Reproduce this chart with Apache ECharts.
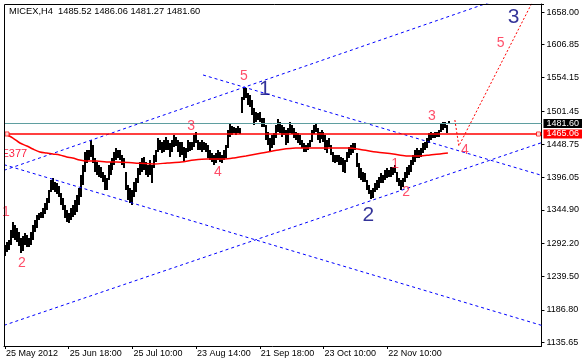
<!DOCTYPE html>
<html><head><meta charset="utf-8">
<script src="https://cdn.jsdelivr.net/npm/echarts@6/dist/echarts.min.js"></script>
<style>html,body{margin:0;padding:0;background:#fff}#c{width:582px;height:359px}</style>
</head><body><div id="c"></div>
<script>
// ---- data ----
const slotCount = 270;                       // bar slots across the plot
const xTickIndex = [0, 32, 64, 96, 128, 160, 192];
const xTickLabels = ['25 May 2012', '25 Jun 18:00', '25 Jul 10:00', '23 Aug 14:00', '21 Sep 18:00', '23 Oct 10:00', '22 Nov 10:00'];
const yTickValues = [1135.65, 1186.80, 1239.50, 1292.20, 1344.90, 1396.05, 1448.75, 1501.45, 1554.15, 1606.85, 1658.00];
const yMin = 1129.48, yMax = 1670.87;

const quoteName = 'MICEX,H4';
const quoteOHLC = [1485.52, 1486.06, 1481.27, 1481.60];
const bidPrice = 1481.60;
const levelPrice = 1465.06;

const barHigh = [
1289,1294,1297,1313,1326,1321,1316,1310,1300,1304,
1308,1305,1300,1310,1321,1329,1337,1340,1342,1348,
1356,1364,1376,1392,1395,1389,1387,1383,1372,1364,
1353,1345,1340,1348,1353,1361,1369,1380,1400,1416,
1437,1440,1440,1456,1448,1427,1421,1416,1413,1405,
1400,1395,1416,1421,1427,1437,1443,1440,1440,1432,
1427,1405,1384,1380,1376,1389,1395,1411,1421,1427,
1429,1421,1416,1424,1416,1432,1440,1459,1456,1452,
1456,1460,1456,1451,1456,1464,1460,1456,1452,1452,
1445,1443,1456,1452,1452,1464,1468,1456,1452,1456,
1452,1451,1448,1440,1435,1432,1435,1440,1437,1432,
1440,1448,1471,1482,1478,1476,1475,1478,1475,1524,
1538,1538,1530,1527,1519,1506,1500,1498,1500,1490,
1490,1479,1468,1459,1464,1467,1479,1489,1484,1479,
1476,1471,1475,1484,1479,1475,1468,1467,1464,1456,
1451,1448,1451,1456,1471,1479,1482,1475,1468,1471,
1468,1464,1456,1459,1448,1437,1432,1432,1432,1429,
1427,1424,1437,1445,1448,1451,1451,1435,1419,1411,
1405,1403,1392,1384,1376,1380,1387,1392,1397,1403,
1400,1408,1411,1408,1413,1413,1416,1405,1395,1392,
1395,1405,1413,1416,1424,1432,1440,1443,1440,1443,
1451,1452,1459,1467,1468,1467,1468,1468,1471,1482,
1484,1484,1479,1486];
const barLow = [
1272,1278,1281,1289,1300,1297,1294,1288,1277,1281,
1289,1286,1285,1289,1297,1310,1316,1329,1332,1332,
1338,1345,1356,1373,1376,1373,1369,1365,1353,1345,
1332,1326,1324,1329,1334,1338,1342,1353,1365,1384,
1405,1419,1424,1429,1419,1405,1400,1397,1395,1389,
1376,1376,1392,1400,1408,1416,1424,1427,1424,1416,
1411,1376,1361,1356,1353,1365,1373,1387,1400,1405,
1408,1400,1397,1400,1387,1411,1421,1437,1440,1435,
1437,1440,1440,1429,1437,1445,1445,1437,1429,1432,
1421,1427,1437,1437,1440,1445,1451,1440,1440,1437,
1440,1437,1427,1424,1421,1416,1419,1424,1421,1419,
1424,1427,1443,1460,1464,1467,1464,1467,1465,1498,
1519,1522,1511,1508,1495,1479,1484,1487,1484,1476,
1476,1456,1448,1437,1443,1448,1459,1468,1467,1460,
1464,1448,1452,1467,1464,1459,1456,1451,1448,1443,
1437,1437,1440,1445,1452,1464,1467,1456,1451,1456,
1452,1440,1435,1445,1432,1421,1419,1421,1416,1416,
1405,1403,1421,1427,1432,1435,1440,1413,1395,1392,
1389,1389,1376,1369,1361,1364,1372,1376,1380,1387,
1387,1392,1395,1397,1397,1400,1403,1389,1383,1376,
1380,1389,1395,1400,1405,1416,1421,1427,1427,1429,
1435,1440,1443,1451,1456,1459,1459,1460,1460,1467,
1471,1475,1467,1481];

// moving-average curve (slot position, price)
const maIdx = [0,4,7.5,11,14,17.5,21,24,27.5,31,34,37.5,41,46,51,56,65,75,81.5,88.5,95,101.5,110,115,121,129,137.5,146,154,162.5,172.5,180,186.5,195,201.5,208.5,213.5,218.5,222.5];
const maVal = [1465.1,1458.7,1450.8,1446.1,1441.3,1436.6,1435.0,1433.4,1431.8,1428.7,1427.1,1423.9,1422.3,1422.3,1420.8,1420.8,1419.2,1417.6,1419.2,1420.8,1423.9,1425.5,1425.5,1427.1,1430.3,1435.0,1439.8,1442.9,1442.9,1442.9,1442.9,1439.8,1436.6,1433.4,1430.3,1430.3,1431.8,1433.4,1435.0];

// blue dashed trend lines: [[slot, price], [slot, price]]
const blueLineA = [[-0.5, 1407.6], [269.5, 1701.9]];
const blueLineB = [[99.5, 1558.5], [269.5, 1399.7]];
const blueLineC = [[-0.5, 1416.5], [269.5, 1162.2]];
const blueLineD = [[-0.5, 1162.2], [269.5, 1451.3]];
// red dotted projection 3 -> 4 -> 5
const redProjection = [[226, 1487.2], [228, 1446.1], [266.5, 1683.5]];

// wave labels
const redWaveText = ['1', '2', '3', '4', '5', '1', '2', '3', '4', '5'];
const redWaveIdx  = [0.5, 8.5, 93.5, 107, 120, 196, 201.5, 214.5, 231, 249];
const redWaveVal  = [1341.6, 1260.9, 1477.7, 1404.9, 1556.9, 1417.6, 1373.3, 1493.6, 1439.8, 1609.1];
const navyWaveText = ['1', '2', '3'];
const navyWaveIdx  = [130.5, 182.5, 255.5];
const navyWaveVal  = [1536.3, 1336.9, 1650.3];
const levelMarkIdx = [1, 268];

// ---- chart ----
const FONT = '"Liberation Sans", Arial, sans-serif';
const RED_TXT = '#ff2244';
const chart = echarts.init(document.getElementById('c'));

function dashed(data) {
  return {
    type: 'line', data: data, symbol: 'none', silent: true, z: 3, clip: true,
    lineStyle: { color: '#0000ff', width: 1, type: [3, 3] }
  };
}

const option = {
  animation: false,
  backgroundColor: '#fff',
  textStyle: { fontFamily: FONT },
  grid: { left: 4, top: 4, width: 540, height: 342, show: false },
  xAxis: {
    type: 'value', min: -0.5, max: slotCount - 0.5,
    axisLine: { show: true, onZero: false, lineStyle: { color: '#000', width: 1 } },
    axisTick: { show: true, length: 3, customValues: xTickIndex, lineStyle: { color: '#000' } },
    axisLabel: {
      customValues: xTickIndex,
      formatter: (v) => { const k = xTickIndex.indexOf(Math.round(v)); return k >= 0 ? xTickLabels[k] : ''; },
      align: 'left', color: '#000', fontSize: 9, fontFamily: FONT, margin: 3, padding: [0, 0, 0, 1]
    },
    splitLine: { show: false }
  },
  yAxis: {
    type: 'value', position: 'right', min: yMin, max: yMax,
    axisLine: { show: true, onZero: false, lineStyle: { color: '#000', width: 1 } },
    axisTick: { show: true, length: 3, customValues: yTickValues, lineStyle: { color: '#000' } },
    axisLabel: { customValues: yTickValues, formatter: (v) => v.toFixed(2), color: '#000', fontSize: 9, fontFamily: FONT, margin: 5 },
    splitLine: { show: false }
  },
  graphic: [
    { type: 'text', left: 9, top: 7, z: 100, style: { text: quoteName + '  ' + quoteOHLC.map(v => v.toFixed(2)).join(' '), fill: '#000', font: '9.3px "Liberation Sans", Arial, sans-serif' } },
    { type: 'text', left: 1.5, top: 148, z: 100, style: { text: 'E377', fill: RED_TXT, font: '11px "Liberation Sans", Arial, sans-serif' } },
    { type: 'rect', z: 101, shape: { x: 0, y: 145, width: 4, height: 16 }, style: { fill: '#fff' } },
    { type: 'line', z: 102, shape: { x1: 4.5, y1: 4.5, x2: 544, y2: 4.5 }, style: { stroke: '#000', lineWidth: 1 } },
    { type: 'line', z: 102, shape: { x1: 4.5, y1: 4.5, x2: 4.5, y2: 346 }, style: { stroke: '#000', lineWidth: 1 } }
  ],
  series: [
    {
      type: 'custom', z: 2, silent: true, clip: true,
      data: barLow.map((l, i) => [i, l, barHigh[i]]),
      encode: { x: 0, y: [1, 2] },
      renderItem: function (params, api) {
        const top = api.coord([api.value(0), api.value(2)]);
        const bot = api.coord([api.value(0), api.value(1)]);
        const w = api.size([1, 0])[0];
        return {
          type: 'rect',
          shape: { x: Math.round(top[0] - w / 2), y: Math.round(top[1]), width: Math.round(w), height: Math.max(1, Math.round(bot[1] - top[1])) },
          style: { fill: '#000' }
        };
      },
      markLine: {
        silent: true, symbol: ['none', 'none'], animation: false,
        data: [
          { yAxis: bidPrice, lineStyle: { color: '#5f9ea0', width: 1, type: 'solid' },
            label: { show: true, position: 'end', formatter: bidPrice.toFixed(2), backgroundColor: '#000', color: '#fff', fontSize: 9, fontFamily: FONT, lineHeight: 9, padding: [0, 3, 0, 3], distance: 2 } },
          { yAxis: levelPrice, lineStyle: { color: '#ff0000', width: 1.5, type: 'solid' },
            label: { show: true, position: 'end', formatter: levelPrice.toFixed(2), backgroundColor: '#ff0000', color: '#fff', fontSize: 9, fontFamily: FONT, lineHeight: 9, padding: [0, 3, 0, 3], distance: 2 } }
        ]
      }
    },
    dashed(blueLineA), dashed(blueLineB), dashed(blueLineC), dashed(blueLineD),
    {
      type: 'line', data: redProjection, symbol: 'none', silent: true, z: 3, clip: true,
      lineStyle: { color: '#ff0000', width: 1, type: [2, 2] }
    },
    {
      type: 'line', data: maIdx.map((x, i) => [x, maVal[i]]), smooth: 0.3,
      symbol: 'none', silent: true, z: 4, lineStyle: { color: '#ff0000', width: 1.5 }
    },
    {
      type: 'scatter', data: levelMarkIdx.map(x => [x, levelPrice]), symbol: 'rect', symbolSize: 4,
      itemStyle: { color: '#fff', borderColor: '#ff0000', borderWidth: 1 }, z: 6, silent: true
    },
    {
      type: 'scatter', silent: true, z: 7, symbolSize: 1, itemStyle: { color: 'rgba(0,0,0,0)' }, clip: false,
      data: redWaveIdx.map((x, i) => [x, redWaveVal[i], redWaveText[i]]),
      label: { show: true, position: 'inside', formatter: (p) => p.value[2], color: RED_TXT, fontSize: 14, fontFamily: FONT }
    },
    {
      type: 'scatter', silent: true, z: 7, symbolSize: 1, itemStyle: { color: 'rgba(0,0,0,0)' }, clip: false,
      data: navyWaveIdx.map((x, i) => [x, navyWaveVal[i], navyWaveText[i]]),
      label: { show: true, position: 'inside', formatter: (p) => p.value[2], color: '#000080', fontSize: 21, fontFamily: FONT }
    }
  ]
};
chart.setOption(option);
</script>
</body></html>
